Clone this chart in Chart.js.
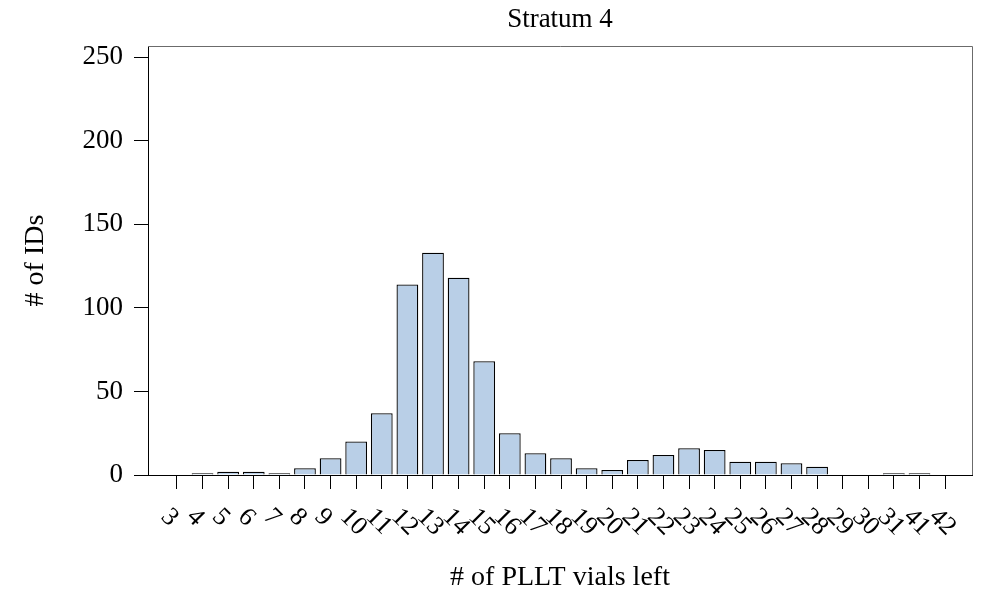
<!DOCTYPE html>
<html>
<head>
<meta charset="utf-8">
<title>Stratum 4</title>
<script src="https://cdn.jsdelivr.net/npm/chart.js@4"></script>
<style>
  body { margin: 0; background: #fff; }
  canvas { display: block; }
</style>
</head>
<body>
<canvas id="grafico" width="986" height="600"></canvas>
<script>
// dados
const categorias = ['3','4','5','6','7','8','9','10','11','12','13','14','15','16','17','18','19','20',
                    '21','22','23','24','25','26','27','28','29','30','31','41','42']
const contagens = [0,1,2,2,1,4,10,20,37,114,133,118,68,25,13,10,4,3,9,12,16,15,8,8,7,5,0,0,1,1,0]
const ticksY = [0, 50, 100, 150, 200, 250]
const topoY = 256.6

const fonte = 'Liberation Serif'

/*========================================================*/

// moldura cinza em cima e a direita
const moldura = {
    id: 'moldura',
    beforeDatasetsDraw(chart) {
        const ctx = chart.ctx
        const a = chart.chartArea
        ctx.save()
        ctx.strokeStyle = '#6b6b6b'
        ctx.lineWidth = 1
        ctx.beginPath()
        ctx.moveTo(a.left, a.top + 0.5)
        ctx.lineTo(a.right + 0.5, a.top + 0.5)
        ctx.lineTo(a.right + 0.5, a.bottom)
        ctx.stroke()
        ctx.restore()
    }
}

// rotulos do eixo x, inclinados para baixo como no original
const rotulosX = {
    id: 'rotulosX',
    afterDraw(chart) {
        const ctx = chart.ctx
        const eixo = chart.scales.x
        ctx.save()
        ctx.font = '26px "' + fonte + '"'
        ctx.fillStyle = '#000'
        ctx.textAlign = 'left'
        ctx.textBaseline = 'middle'
        for (let i = 0; i < categorias.length; i++) {
            const px = eixo.getPixelForValue(i)
            ctx.save()
            ctx.translate(px - 12, eixo.top + 38)
            ctx.rotate(45 * Math.PI / 180)
            ctx.fillText(categorias[i], 0, 0)
            ctx.restore()
        }
        ctx.restore()
    }
}

/*========================================================*/

const ctx = document.getElementById('grafico')

var grafico = new Chart(ctx, {
    type: 'bar',
    data: {
        datasets: [{
            label: '# of IDs',
            data: contagens.map((v, i) => ({x: i, y: v})),
            backgroundColor: '#b9cfe7',
            borderColor: '#000',
            borderWidth: 1.3,
            barPercentage: 0.85,
            categoryPercentage: 1
        }]
    },
    options: {
        responsive: false,
        animation: false,
        layout: { padding: { left: 0, right: 14, top: 0, bottom: 0 } },
        plugins: {
            legend: { display: false },
            tooltip: { enabled: false },
            title: {
                display: true,
                text: 'Stratum 4',
                fullSize: false,
                color: '#000',
                font: { family: fonte, size: 27, weight: 'normal' },
                padding: { top: 4, bottom: 9.6 }
            }
        },
        scales: {
            x: {
                type: 'linear',
                min: -1.13,
                max: 31.05,
                offset: false,
                grid: { offset: false, drawOnChartArea: false, tickLength: 14, color: '#000' },
                border: { display: true, color: '#000', width: 1 },
                ticks: { display: false },
                afterBuildTicks: (s) => { s.ticks = categorias.map((c, i) => ({value: i})) },
                afterFit: (s) => { s.height = 125 },
                title: {
                    display: true,
                    text: '# of PLLT vials left',
                    color: '#000',
                    font: { family: fonte, size: 28 },
                    padding: { top: 0, bottom: 6 }
                }
            },
            y: {
                min: 0,
                max: topoY,
                grid: { drawOnChartArea: false, tickLength: 14, color: '#000' },
                border: { display: true, color: '#000', width: 1 },
                ticks: { color: '#000', font: { family: fonte, size: 27 }, padding: 11 },
                afterBuildTicks: (s) => { s.ticks = ticksY.map(v => ({value: v})) },
                afterFit: (s) => { s.width = 148 },
                title: {
                    display: true,
                    text: '# of IDs',
                    color: '#000',
                    font: { family: fonte, size: 28 },
                    padding: { top: 19, bottom: 0 }
                }
            }
        }
    },
    plugins: [moldura, rotulosX]
})
</script>
</body>
</html>
